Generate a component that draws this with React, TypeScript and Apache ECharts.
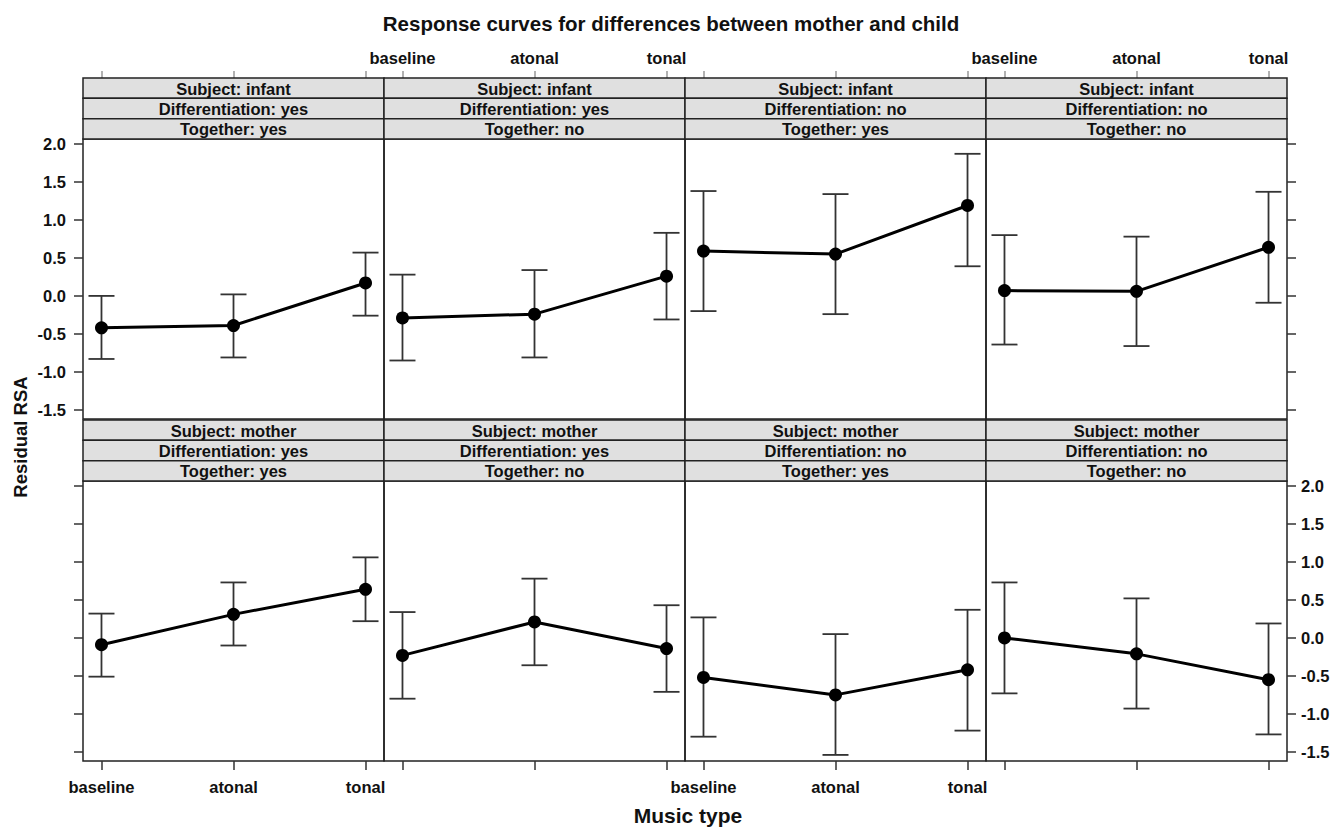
import React, { useEffect, useRef } from "react";
import * as echarts from "echarts";

const TITLE = "Response curves for differences between mother and child";
const Y_TITLE = "Residual RSA";
const X_TITLE = "Music type";

const CATEGORIES = ["baseline", "atonal", "tonal"];
const Y_TICKS = [-1.5, -1.0, -0.5, 0.0, 0.5, 1.0, 1.5, 2.0];

const SUBJECT_LABELS = [
  "Subject: infant", "Subject: infant", "Subject: infant", "Subject: infant",
  "Subject: mother", "Subject: mother", "Subject: mother", "Subject: mother",
];
const DIFF_LABELS = [
  "Differentiation: yes", "Differentiation: yes", "Differentiation: no", "Differentiation: no",
  "Differentiation: yes", "Differentiation: yes", "Differentiation: no", "Differentiation: no",
];
const TOGETHER_LABELS = [
  "Together: yes", "Together: no", "Together: yes", "Together: no",
  "Together: yes", "Together: no", "Together: yes", "Together: no",
];

// fitted values per panel: baseline, atonal, tonal
const FIT = [
  [-0.42, -0.39, 0.17],
  [-0.29, -0.24, 0.26],
  [0.59, 0.55, 1.19],
  [0.07, 0.06, 0.64],
  [-0.09, 0.31, 0.64],
  [-0.23, 0.21, -0.14],
  [-0.52, -0.75, -0.42],
  [0.0, -0.21, -0.55],
];
const LOWER = [
  [-0.83, -0.81, -0.26],
  [-0.85, -0.81, -0.31],
  [-0.2, -0.24, 0.39],
  [-0.64, -0.66, -0.09],
  [-0.51, -0.1, 0.22],
  [-0.8, -0.36, -0.71],
  [-1.3, -1.54, -1.22],
  [-0.73, -0.93, -1.27],
];
const UPPER = [
  [0.0, 0.02, 0.57],
  [0.28, 0.34, 0.83],
  [1.38, 1.34, 1.87],
  [0.8, 0.78, 1.37],
  [0.32, 0.73, 1.06],
  [0.34, 0.78, 0.43],
  [0.27, 0.05, 0.37],
  [0.73, 0.52, 0.19],
];

const FONT = "'Liberation Sans', Arial, sans-serif";

export default function App() {
  const ref = useRef<HTMLDivElement>(null);

  useEffect(() => {
    if (!ref.current) return;
    const chart = echarts.init(ref.current, undefined, { renderer: "svg" });

    const colLefts = [83, 384, 685, 986];
    const panelW = 301;
    const rowTops = [139, 481];
    const panelH = 280;
    const stripH = 20.33;

    const grids: any[] = [];
    const xAxes: any[] = [];
    const yAxes: any[] = [];
    const series: any[] = [];
    const graphics: any[] = [];

    for (let p = 0; p < 8; p++) {
      const r = Math.floor(p / 4);
      const c = p % 4;
      grids.push({
        left: colLefts[c],
        top: rowTops[r],
        width: panelW,
        height: panelH,
        show: true,
        borderColor: "#222",
        borderWidth: 1.5,
        backgroundColor: "transparent",
      });
      const showXLabel = r === 0 ? c % 2 === 1 : c % 2 === 0;
      xAxes.push({
        gridIndex: p,
        type: "value",
        min: 0.86,
        max: 3.14,
        position: r === 0 ? "top" : "bottom",
        offset: r === 0 ? 61 : 0,
        axisLine: { show: false, onZero: false },
        splitLine: { show: false },
        axisTick: {
          show: true,
          customValues: [1, 2, 3],
          length: r === 0 ? 7 : 9,
          lineStyle: { color: r === 0 ? "#999" : "#333", width: 1.5 },
        },
        axisLabel: {
          show: showXLabel,
          customValues: [1, 2, 3],
          formatter: (v: number) => CATEGORIES[Math.round(v) - 1],
          margin: r === 0 ? 12 : 17,
          fontSize: 16.5,
          fontWeight: "bold",
          fontFamily: FONT,
          color: "#111",
        },
      });
      const yShow = c === 0 || c === 3;
      const showYLabel = (c === 0 && r === 0) || (c === 3 && r === 1);
      yAxes.push({
        gridIndex: p,
        type: "value",
        min: -1.62,
        max: 2.065,
        show: yShow,
        position: c === 3 ? "right" : "left",
        axisLine: { show: false, onZero: false },
        splitLine: { show: false },
        axisTick: {
          show: true,
          customValues: Y_TICKS,
          length: 9,
          lineStyle: { color: "#333", width: 1.5 },
        },
        axisLabel: {
          show: showYLabel,
          customValues: Y_TICKS,
          formatter: (v: number) => v.toFixed(1),
          margin: c === 0 ? 17 : 14,
          fontSize: 16.5,
          fontWeight: "bold",
          fontFamily: FONT,
          color: "#111",
        },
      });

      series.push({
        type: "custom",
        xAxisIndex: p,
        yAxisIndex: p,
        z: 2,
        encode: { x: 0, y: [1, 2] },
        data: CATEGORIES.map((_, i) => [i + 1, LOWER[p][i], UPPER[p][i]]),
        renderItem: (params: any, api: any) => {
          const x = api.value(0);
          const lo = api.coord([x, api.value(1)]);
          const hi = api.coord([x, api.value(2)]);
          const hw = 13;
          const style = { stroke: "#333", lineWidth: 1.8 };
          return {
            type: "group",
            children: [
              { type: "line", shape: { x1: lo[0], y1: lo[1], x2: hi[0], y2: hi[1] }, style },
              { type: "line", shape: { x1: lo[0] - hw, y1: lo[1], x2: lo[0] + hw, y2: lo[1] }, style },
              { type: "line", shape: { x1: hi[0] - hw, y1: hi[1], x2: hi[0] + hw, y2: hi[1] }, style },
            ],
          };
        },
      });
      series.push({
        type: "line",
        xAxisIndex: p,
        yAxisIndex: p,
        z: 3,
        data: FIT[p].map((v, i) => [i + 1, v]),
        symbol: "circle",
        symbolSize: 13,
        itemStyle: { color: "#000" },
        lineStyle: { color: "#000", width: 3 },
      });

      const labels = [SUBJECT_LABELS[p], DIFF_LABELS[p], TOGETHER_LABELS[p]];
      const stripTop = rowTops[r] - 3 * stripH;
      labels.forEach((t, k) => {
        graphics.push({
          type: "rect",
          shape: { x: colLefts[c], y: stripTop + k * stripH, width: panelW, height: stripH },
          style: { fill: "#e0e0e0", stroke: "#222", lineWidth: 1.5 },
          z: 1,
        });
        graphics.push({
          type: "text",
          x: colLefts[c] + panelW / 2,
          y: stripTop + k * stripH + stripH / 2 + 0.5,
          style: {
            text: t,
            fontSize: 16.5,
            fontWeight: "bold",
            fontFamily: FONT,
            fill: "#111",
            textAlign: "center",
            textVerticalAlign: "middle",
          },
          z: 2,
        });
      });
    }

    graphics.push({
      type: "text",
      x: 20,
      y: 437,
      rotation: Math.PI / 2,
      style: {
        text: Y_TITLE,
        fontSize: 18.5,
        fontWeight: "bold",
        fontFamily: FONT,
        fill: "#111",
        textAlign: "center",
        textVerticalAlign: "middle",
      },
    });
    graphics.push({
      type: "text",
      x: 688,
      y: 815,
      style: {
        text: X_TITLE,
        fontSize: 21,
        fontWeight: "bold",
        fontFamily: FONT,
        fill: "#111",
        textAlign: "center",
        textVerticalAlign: "middle",
      },
    });

    chart.setOption({
      animation: false,
      backgroundColor: "#fff",
      title: {
        text: TITLE,
        left: "center",
        top: 8,
        textStyle: { fontSize: 20.5, fontWeight: "bold", fontFamily: FONT, color: "#111" },
      },
      grid: grids,
      xAxis: xAxes,
      yAxis: yAxes,
      series,
      graphic: graphics,
    });

    return () => chart.dispose();
  }, []);

  return (
    <div
      ref={ref}
      style={{ position: "fixed", left: 0, top: 0, width: 1342, height: 828 }}
    />
  );
}
